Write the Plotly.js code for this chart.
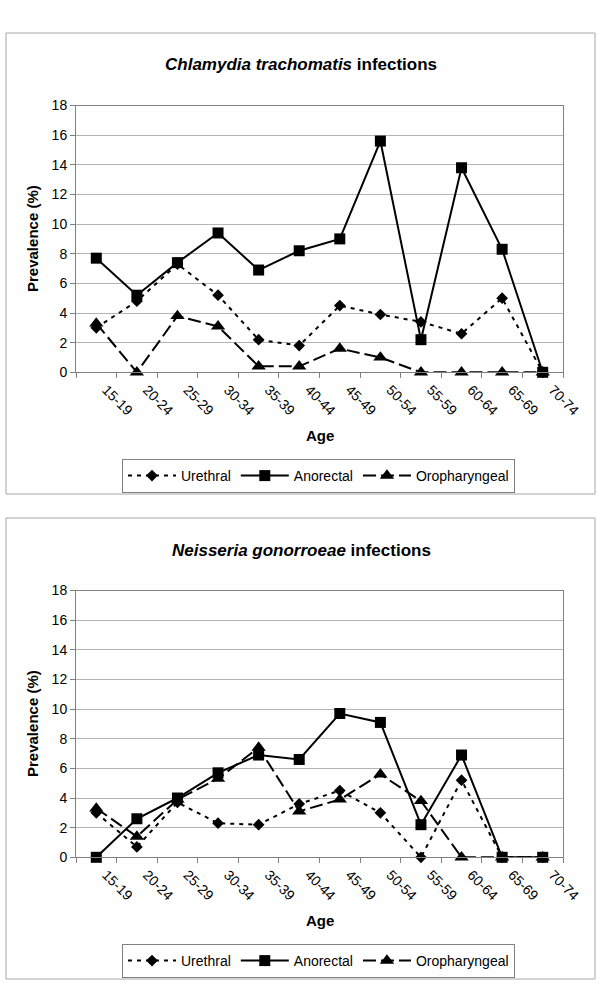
<!DOCTYPE html>
<html>
<head>
<meta charset="utf-8">
<script src="https://cdn.plot.ly/plotly-3.0.1.min.js"></script>
<style>
  html, body { margin: 0; padding: 0; background: #ffffff; }
  #chart { width: 600px; height: 1000px; }
</style>
</head>
<body>
<div id="chart"></div>
<script>
// ---- Data ----
const ageGroups = ['15-19','20-24','25-29','30-34','35-39','40-44','45-49','50-54','55-59','60-64','65-69','70-74'];

// Chlamydia trachomatis prevalence (%)
const ctUrethral       = [3.0, 4.8, 7.3, 5.2, 2.2, 1.8, 4.5, 3.9, 3.4, 2.6, 5.0, 0];
const ctAnorectal      = [7.7, 5.2, 7.4, 9.4, 6.9, 8.2, 9.0, 15.6, 2.2, 13.8, 8.3, 0];
const ctOropharyngeal  = [3.3, 0, 3.8, 3.1, 0.4, 0.4, 1.6, 1.0, 0, 0, 0, 0];

// Neisseria gonorroeae prevalence (%)
const ngUrethral       = [3.0, 0.7, 3.7, 2.3, 2.2, 3.6, 4.5, 3.0, 0, 5.2, 0, 0];
const ngAnorectal      = [0, 2.6, 4.0, 5.7, 6.9, 6.6, 9.7, 9.1, 2.2, 6.9, 0, 0];
const ngOropharyngeal  = [3.3, 1.4, 3.9, 5.3, 7.4, 3.1, 3.9, 5.6, 3.8, 0, 0, 0];

const seriesNames = ['Urethral', 'Anorectal', 'Oropharyngeal'];
const chartTitles = ['<b><i>Chlamydia trachomatis</i> infections</b>', '<b><i>Neisseria gonorroeae</i> infections</b>'];
const xTitle = 'Age';
const yTitle = 'Prevalence (%)';

// ---- Styles ----
const FONT = 'Liberation Sans, Arial, Helvetica, sans-serif';
const styles = [
  { dash: '4px,5px',  symbol: 'diamond',     size: 9 },
  { dash: 'solid',    symbol: 'square',      size: 11 },
  { dash: '13px,5px', symbol: 'triangle-up', size: 12.5 }
];

function mkTrace(y, i, xa, ya, legendId, show) {
  return {
    type: 'scatter', mode: 'lines+markers',
    x: ageGroups, y: y, name: seriesNames[i],
    xaxis: xa, yaxis: ya, legend: legendId, showlegend: show,
    line: { color: '#000000', width: 2, dash: styles[i].dash },
    marker: { color: '#000000', symbol: styles[i].symbol, size: styles[i].size, line: { width: 0 } },
    cliponaxis: false
  };
}

const data = [
  mkTrace(ctUrethral, 0, 'x', 'y', 'legend', true),
  mkTrace(ctAnorectal, 1, 'x', 'y', 'legend', true),
  mkTrace(ctOropharyngeal, 2, 'x', 'y', 'legend', true),
  mkTrace(ngUrethral, 0, 'x2', 'y2', 'legend2', true),
  mkTrace(ngAnorectal, 1, 'x2', 'y2', 'legend2', true),
  mkTrace(ngOropharyngeal, 2, 'x2', 'y2', 'legend2', true)
];

const W = 600, H = 1000;
const SHIFT = 485;
const px = v => v / W;
const py = v => 1 - v / H;

function xAxis(anchor) {
  return {
    domain: [px(76), px(563)], anchor: anchor, type: 'category',
    range: [-0.5, 11.5], tickson: 'boundaries',
    ticks: 'outside', ticklen: 5, tickcolor: '#808080', tickwidth: 1,
    showline: true, linecolor: '#808080', linewidth: 1, mirror: true,
    showgrid: false, zeroline: false, tickangle: 45,
    ticklabelshift: 10, ticklabelstandoff: 3,
    tickfont: { family: FONT, size: 14, color: '#000000' }
  };
}
function yAxis(anchor, top, bottom) {
  return {
    domain: [py(bottom), py(top)], anchor: anchor,
    range: [0, 18], dtick: 2, tick0: 0,
    ticks: 'outside', ticklen: 5, tickcolor: '#808080', tickwidth: 1,
    showline: true, linecolor: '#808080', linewidth: 1, mirror: true,
    showgrid: true, gridcolor: '#b4b4b4', gridwidth: 1, zeroline: false,
    tickfont: { family: FONT, size: 14, color: '#000000' }
  };
}

const annotations = [];
const shapes = [];
[0, 1].forEach(k => {
  const s = k * SHIFT;
  annotations.push({ xref: 'paper', yref: 'paper', x: px(301), y: py(65 + s), text: chartTitles[k],
    showarrow: false, xanchor: 'center', yanchor: 'middle', font: { family: FONT, size: 17, color: '#000' } });
  annotations.push({ xref: 'paper', yref: 'paper', x: px(319.5), y: py(435 + s), text: '<b>' + xTitle + '</b>',
    showarrow: false, xanchor: 'center', yanchor: 'middle', font: { family: FONT, size: 15, color: '#000' } });
  annotations.push({ xref: 'paper', yref: 'paper', x: px(32), y: py(239 + s), text: '<b>' + yTitle + '</b>',
    textangle: -90, showarrow: false, xanchor: 'center', yanchor: 'middle', font: { family: FONT, size: 15, color: '#000' } });
  shapes.push({ type: 'rect', xref: 'paper', yref: 'paper', x0: px(6), x1: px(595), y0: py(494 + s), y1: py(33 + s),
    line: { color: '#a6a6a6', width: 1 }, fillcolor: 'rgba(0,0,0,0)', layer: 'below' });
});

function legendAt(yc) {
  return {
    x: px(318.5), y: py(yc), xanchor: 'center', yanchor: 'middle', xref: 'paper', yref: 'paper',
    orientation: 'h', bgcolor: '#ffffff', bordercolor: '#808080', borderwidth: 1,
    font: { family: FONT, size: 14, color: '#000' }, itemwidth: 48, traceorder: 'normal', tracegroupgap: 0
  };
}

const layout = {
  width: W, height: H,
  margin: { l: 0, r: 0, t: 0, b: 0 },
  paper_bgcolor: '#ffffff', plot_bgcolor: '#ffffff',
  font: { family: FONT, size: 14, color: '#000' },
  xaxis: xAxis('y'),
  yaxis: yAxis('x', 105.5, 372.3),
  xaxis2: xAxis('y2'),
  yaxis2: yAxis('x2', 105.5 + SHIFT, 372.3 + SHIFT),
  legend: legendAt(476),
  legend2: legendAt(476 + SHIFT),
  annotations: annotations,
  shapes: shapes
};

Plotly.newPlot('chart', data, layout, { staticPlot: true, displayModeBar: false });
</script>
</body>
</html>
